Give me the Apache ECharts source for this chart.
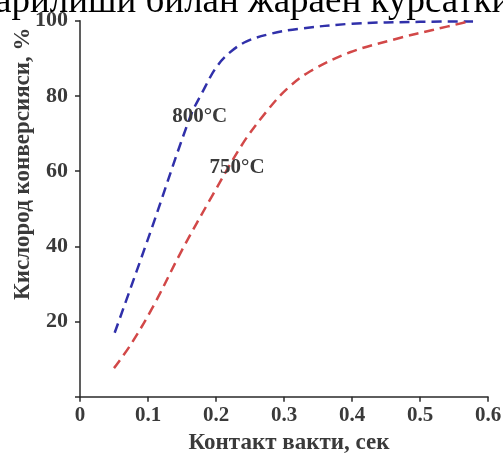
<!DOCTYPE html>
<html>
<head>
<meta charset="utf-8">
<script src="https://cdn.jsdelivr.net/npm/echarts@6/dist/echarts.min.js"></script>
<style>html,body{margin:0;padding:0;background:#fff;}#c{width:503px;height:456px;}</style>
</head>
<body>
<div id="c"></div>
<script>
var xTicks = [0, 0.1, 0.2, 0.3, 0.4, 0.5, 0.6];
var yTicks = [20, 40, 60, 80, 100];
var series800Name = '800°C';
var series800X = [0.051, 0.103, 0.162, 0.180, 0.200, 0.220, 0.245, 0.280, 0.320, 0.400, 0.500, 0.578];
var series800Y = [17, 43.5, 74.4, 81, 87.5, 91.5, 94.5, 96.5, 97.8, 99.2, 99.7, 99.8];
var series750Name = '750°C';
var series750X = [0.050, 0.074, 0.107, 0.150, 0.195, 0.240, 0.275, 0.304, 0.338, 0.397, 0.470, 0.520, 0.570];
var series750Y = [7.6, 13.7, 23.8, 39, 53.6, 67.5, 76, 81.8, 86.5, 91.6, 95.4, 97.6, 99.7];
var label800 = [0.176, 74.4];
var label750 = [0.231, 61];
var topText = 'арилиши билан жараён курсатки';
var xName = 'Контакт вакти, сек';
var yName = 'Кислород конверсияси, %';

function zip(a, b) { return a.map(function (v, i) { return [v, b[i]]; }); }

var chart = echarts.init(document.getElementById('c'), null, {renderer: 'canvas'});
var serif = '"Liberation Serif", "Times New Roman", serif';
var axisColor = '#2a2a2a';
var textColor = '#3a3a3a';
function mkSeries(name, xs, ys, color, lab) {
  return {
    name: name, type: 'line', smooth: 0.35, showSymbol: false, data: zip(xs, ys),
    lineStyle: {color: color, width: 2.5, type: [10, 6]},
    markPoint: {
      symbol: 'circle', symbolSize: 0,
      data: [{coord: lab, value: name}],
      label: {show: true, position: 'inside', formatter: name, fontFamily: serif, fontWeight: 'bold', fontSize: 21, color: textColor}
    }
  };
}
chart.setOption({
  animation: false,
  backgroundColor: '#fff',
  graphic: [{
    type: 'text', left: -5, top: -16,
    style: {text: topText, font: '37px ' + serif, fill: '#000'}
  }],
  grid: {left: 80, right: 15, top: 20.7, bottom: 59.3, containLabel: false, outerBoundsMode: 'none'},
  xAxis: {
    type: 'value', min: 0, max: 0.6, interval: 0.1,
    name: xName, nameLocation: 'middle', nameGap: 35, nameMoveOverlap: false,
    nameTextStyle: {fontFamily: serif, fontWeight: 'bold', fontSize: 23, color: textColor, padding: [0, 0, 0, 10]},
    axisLine: {lineStyle: {color: axisColor, width: 1.5}},
    axisTick: {show: true, inside: false, length: 5, lineStyle: {color: axisColor, width: 1.5}},
    axisLabel: {fontFamily: serif, fontWeight: 'bold', fontSize: 21, color: textColor, margin: 8,
      formatter: function (v) { var r = Math.round(v * 10) / 10; return xTicks.indexOf(r) >= 0 ? String(r) : ''; }},
    splitLine: {show: false}
  },
  yAxis: {
    type: 'value', min: 0, max: 100, interval: 20,
    name: yName, nameLocation: 'middle', nameGap: 45, nameRotate: 90, nameMoveOverlap: false,
    nameTextStyle: {fontFamily: serif, fontWeight: 'bold', fontSize: 23, color: textColor, padding: [0, 0, 0, 90]},
    axisLine: {lineStyle: {color: axisColor, width: 1.5}},
    axisTick: {show: true, inside: false, length: 5, lineStyle: {color: axisColor, width: 1.5}},
    axisLabel: {fontFamily: serif, fontWeight: 'bold', fontSize: 22, color: textColor, margin: 12,
      formatter: function (v) { return yTicks.indexOf(v) >= 0 ? String(v) : ''; }},
    splitLine: {show: false}
  },
  series: [
    mkSeries(series800Name, series800X, series800Y, '#3030aa', label800),
    mkSeries(series750Name, series750X, series750Y, '#d24848', label750)
  ]
});
</script>
</body>
</html>
